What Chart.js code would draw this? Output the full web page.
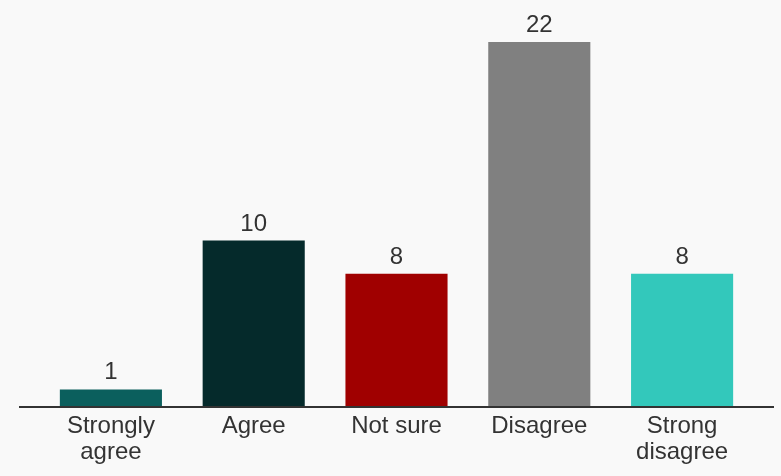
<!DOCTYPE html>
<html>
<head>
<meta charset="utf-8">
<script src="https://cdn.jsdelivr.net/npm/chart.js@4/dist/chart.umd.min.js"></script>
<style>
  html, body { margin: 0; padding: 0; background: #f9f9f9; }
  #wrap { width: 781px; height: 476px; }
</style>
</head>
<body>
<div id="wrap"><canvas id="myChart" width="781" height="476"></canvas></div>
<script>
const categorias = [['Strongly', 'agree'], 'Agree', 'Not sure', 'Disagree', ['Strong', 'disagree']];
const respuestas = [1, 10, 8, 22, 8];
const colores = ['#0b5f5d', '#052a2b', '#a00000', '#808080', '#33c8bb'];

const fuente = '"Liberation Sans", Arial, sans-serif';

// linea base y numeros encima de cada barra
const extras = {
  id: 'extras',
  afterDatasetsDraw(chart) {
    const ctx = chart.ctx;
    const y0 = chart.scales.y.getPixelForValue(0);
    ctx.save();
    ctx.strokeStyle = '#333';
    ctx.lineWidth = 2;
    ctx.beginPath();
    ctx.moveTo(19, y0 + 1);
    ctx.lineTo(774, y0 + 1);
    ctx.stroke();

    ctx.fillStyle = '#333';
    ctx.font = '24px ' + fuente;
    ctx.textAlign = 'center';
    ctx.textBaseline = 'alphabetic';
    chart.getDatasetMeta(0).data.forEach((bar, i) => {
      ctx.fillText(respuestas[i], bar.x, bar.y - 10);
    });
    ctx.restore();
  }
};

new Chart(document.getElementById('myChart'), {
  type: 'bar',
  data: {
    labels: categorias,
    datasets: [{
      data: respuestas,
      backgroundColor: colores,
      borderWidth: 0,
      categoryPercentage: 1,
      barPercentage: 0.715
    }]
  },
  options: {
    responsive: false,
    animation: false,
    layout: { padding: { left: 39.5, right: 27.5, top: 42, bottom: 0 } },
    plugins: { legend: { display: false }, tooltip: { enabled: false } },
    scales: {
      x: {
        grid: { display: false },
        border: { display: false },
        afterFit: (scale) => { scale.height = 70; },
        ticks: {
          color: '#333',
          padding: -1,
          maxRotation: 0,
          font: { family: fuente, size: 24, lineHeight: '26px' }
        }
      },
      y: {
        display: false,
        min: 0,
        max: 22
      }
    }
  },
  plugins: [extras]
});
</script>
</body>
</html>
